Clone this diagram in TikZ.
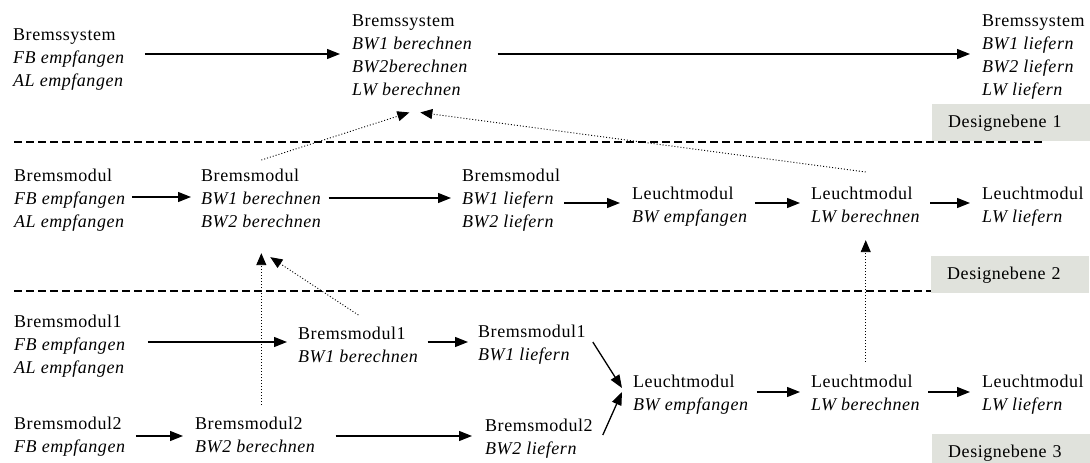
\documentclass[tikz,border=0pt]{standalone}
\usepackage{fontspec}
\setmainfont{Liberation Serif}[LetterSpace=3]
\usetikzlibrary{arrows.meta,calc}
\definecolor{lvlgray}{RGB}{224,226,220}

\begin{document}
\begin{tikzpicture}[x=1pt,y=-1pt,
  blk/.style={anchor=north west, inner sep=0pt, align=left,
    font=\fontsize{18}{23}\selectfont},
  arr/.style={-{Triangle[length=13pt,width=10pt]}, line width=1.3pt},
  dotarr/.style={-{Triangle[length=12pt,width=10pt]}, line width=0.9pt,
    dash pattern=on 1pt off 2pt},
  sep/.style={line width=1.2pt, dash pattern=on 8pt off 4pt},
  lvl/.style={anchor=north west, fill=lvlgray, inner xsep=16pt, inner ysep=0pt,
    minimum height=37pt, text width=126pt, align=left,
    font=\fontsize{18}{22}\selectfont}]

\fill[white] (0,0) rectangle (1090,463);
\useasboundingbox (0,0) rectangle (1090,463);

% level separators
\draw[sep] (14,142) -- (1045,142);
\draw[sep] (14,291) -- (931,291);

% Designebene 1: Bremssystem
\node[blk] (a1) at (13,29)  {Bremssystem\\\textit{FB empfangen}\\\textit{AL empfangen}};
\node[blk] (a2) at (352,15) {Bremssystem\\\textit{BW1 berechnen}\\\textit{BW2berechnen}\\\textit{LW berechnen}};
\node[blk] (a3) at (982,15) {Bremssystem\\\textit{BW1 liefern}\\\textit{BW2 liefern}\\\textit{LW liefern}};

% Designebene 2: Bremsmodul / Leuchtmodul
\node[blk] (b1) at (14,169)  {Bremsmodul\\\textit{FB empfangen}\\\textit{AL empfangen}};
\node[blk] (b2) at (201,169) {Bremsmodul\\\textit{BW1 berechnen}\\\textit{BW2 berechnen}};
\node[blk] (b3) at (462,169) {Bremsmodul\\\textit{BW1 liefern}\\\textit{BW2 liefern}};
\node[blk] (b4) at (632,187) {Leuchtmodul\\\textit{BW empfangen}};
\node[blk] (b5) at (811,187) {Leuchtmodul\\\textit{LW berechnen}};
\node[blk] (b6) at (982,187) {Leuchtmodul\\\textit{LW liefern}};

% Designebene 3: Bremsmodul1 / Bremsmodul2 / Leuchtmodul
\node[blk] (c1) at (14,315)  {Bremsmodul1\\\textit{FB empfangen}\\\textit{AL empfangen}};
\node[blk] (c2) at (298,327) {Bremsmodul1\\\textit{BW1 berechnen}};
\node[blk] (c3) at (478,325) {Bremsmodul1\\\textit{BW1 liefern}};
\node[blk] (c4) at (633,375) {Leuchtmodul\\\textit{BW empfangen}};
\node[blk] (c5) at (811,375) {Leuchtmodul\\\textit{LW berechnen}};
\node[blk] (c6) at (982,375) {Leuchtmodul\\\textit{LW liefern}};
\node[blk] (d1) at (14,417)  {Bremsmodul2\\\textit{FB empfangen}};
\node[blk] (d2) at (195,417) {Bremsmodul2\\\textit{BW2 berechnen}};
\node[blk] (d3) at (485,419) {Bremsmodul2\\\textit{BW2 liefern}};

% level labels
\node[lvl] (e1) at (932,104) {Designebene 1};
\node[lvl] (e2) at (931,256) {Designebene 2};
\node[lvl] (e3) at (932,434) {Designebene 3};

% flow within level 1
\draw[arr] ($(a1.east |- 0,54)+(20,0)$) -- ($(a2.west |- 0,54)+(-12,0)$);
\draw[arr] ($(a2.east |- 0,54)+(25,0)$) -- ($(a3.west |- 0,54)+(-12,0)$);

% flow within level 2
\draw[arr] ($(b1.east |- 0,197)+(6,0)$)  -- ($(b2.west |- 0,197)+(-10,0)$);
\draw[arr] ($(b2.east |- 0,198)+(7,0)$)  -- ($(b3.west |- 0,198)+(-11,0)$);
\draw[arr] ($(b3.east |- 0,203)+(4,0)$)  -- ($(b4.west |- 0,203)+(-12,0)$);
\draw[arr] ($(b4.east |- 0,203)+(7,0)$)  -- ($(b5.west |- 0,203)+(-11,0)$);
\draw[arr] ($(b5.east |- 0,203)+(10,0)$) -- ($(b6.west |- 0,203)+(-12,0)$);

% flow within level 3
\draw[arr] ($(c1.east |- 0,342)+(22,0)$) -- ($(c2.west |- 0,342)+(-11,0)$);
\draw[arr] ($(c2.east |- 0,342)+(9,0)$)  -- ($(c3.west |- 0,342)+(-10,0)$);
\draw[arr] ($(c3.east |- 0,342)+(7,0)$)  -- ($(c4.west |- 0,388)+(-11,0)$);
\draw[arr] ($(d3.east |- 0,435)+(10,0)$) -- ($(c4.west |- 0,392)+(-11,0)$);
\draw[arr] ($(c4.east |- 0,392)+(8,0)$)  -- ($(c5.west |- 0,392)+(-11,0)$);
\draw[arr] ($(c5.east |- 0,392)+(8,0)$)  -- ($(c6.west |- 0,392)+(-12,0)$);
\draw[arr] ($(d1.east |- 0,436)+(10,0)$) -- ($(d2.west |- 0,436)+(-12,0)$);
\draw[arr] ($(d2.east |- 0,436)+(20,0)$) -- ($(d3.west |- 0,436)+(-13,0)$);

% refinement links between levels
\draw[dotarr] ($(b2.north)+(0,-9)$)  -- ($(a2.south)+(-3,16)$);
\draw[dotarr] ($(b5.north)+(0,-15)$) -- ($(a2.south)+(8,16)$);
\draw[dotarr] ($(b2.south |- d2.north)+(0,-12)$) -- ($(b2.south)+(0,25)$);
\draw[dotarr] ($(c2.north)+(0,-12)$) -- ($(b2.south)+(9,29)$);
\draw[dotarr] ($(c5.north)+(0,-13)$) -- ($(b5.south)+(0,17)$);
\end{tikzpicture}
\end{document}
